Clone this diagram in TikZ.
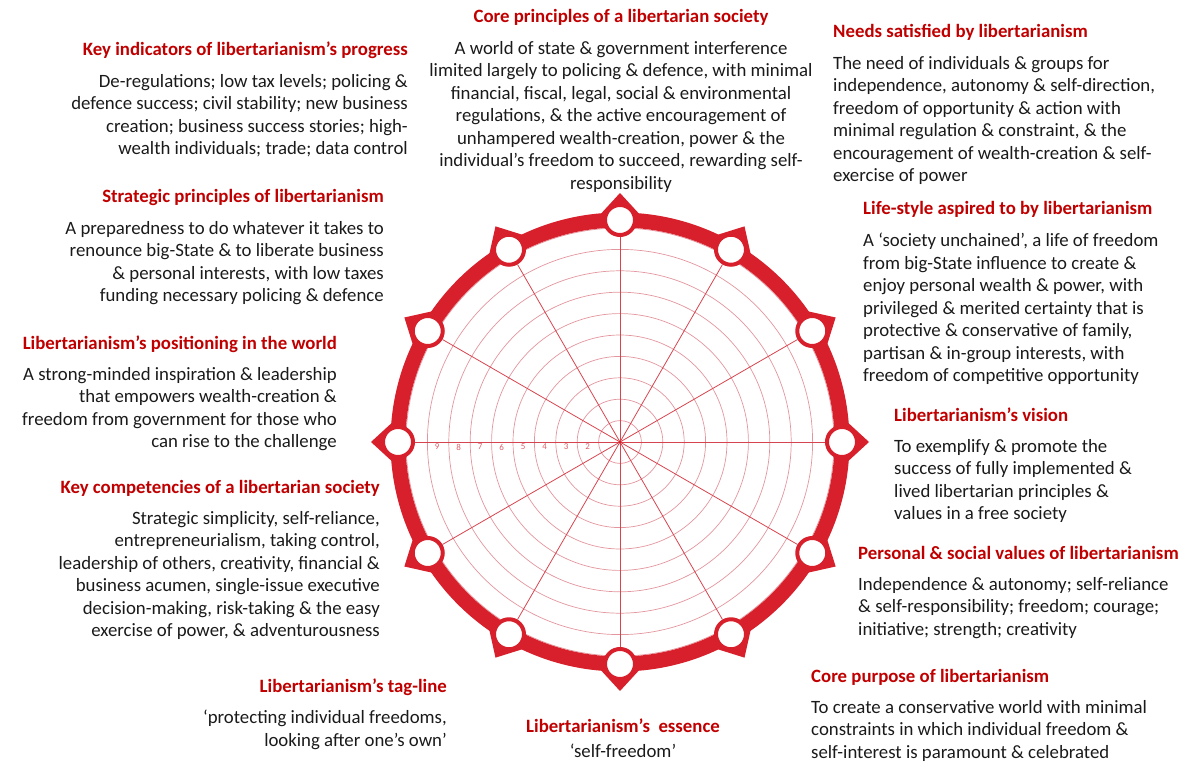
\documentclass[tikz,border=0pt]{standalone}
\usepackage{fontspec}
\setmainfont{Carlito}
\usetikzlibrary{positioning,calc}

\definecolor{wheelred}{HTML}{D7202B}
\definecolor{ringred}{HTML}{E3959D}
\definecolor{spokered}{HTML}{D6444F}
\definecolor{headred}{HTML}{C00000}
\definecolor{ink}{HTML}{1A1A1A}

\tikzset{
  head/.style={inner sep=0pt, text=headred, font=\fontsize{18.8}{22}\selectfont\bfseries,
    text height=13pt, text depth=4pt},
  blurb/.style={inner sep=0pt, text=ink, font=\fontsize{18.8}{22.5}\selectfont},
  spot/.style={circle, draw=wheelred, fill=white, line width=4pt,
    minimum size=30pt, inner sep=0pt},
  ring/.style={ringred, line width=0.7pt},
  spoke/.style={spokered, line width=0.8pt},
  tick/.style={inner sep=0pt, text=spokered!85, font=\fontsize{9}{9}\selectfont\rmfamily}
}

\begin{document}
\begin{tikzpicture}[%
x=1pt, y=-1pt,
node distance=14pt
]
\useasboundingbox (0,0) rectangle (1179,762);

% the wheel
\coordinate (hub) at (620,442);
\foreach \k in {1,...,10}
  \draw[ring] (hub) circle[radius=\k*21.4pt];
\draw[wheelred, line width=15pt] (hub) circle[radius=222pt];
\foreach \a in {0,30,...,330}
  \fill[wheelred] ($(hub)+(\a-6.5:223)$) -- ($(hub)+(\a:249)$) -- ($(hub)+(\a+6.5:223)$) -- cycle;
\foreach \a in {0,30,...,330}
  \node[spot] (spot\a) at ($(hub)+(\a:222)$) {};
\foreach \a in {0,30,...,330}
  \draw[spoke] (hub) -- (spot\a);
\fill[wheelred] (hub) circle[radius=1.6pt];
\foreach \k in {2,...,9}
  \node[tick] (tick\k) at ($(hub)+(-21.5*\k+10.75,5)$) {\k};

% top
\node[head, anchor=base] (coreH) at (621,23) {Core principles of a libertarian society};
\node[blurb, align=center, below=of coreH] (coreT) {A world of state \& government interference\\
limited largely to policing \& defence, with minimal\\
financial, fiscal, legal, social \& environmental\\
regulations, \& the active encouragement of\\
unhampered wealth-creation, power \& the\\
individual’s freedom to succeed, rewarding self-\\
responsibility};

% left side
\node[head, anchor=base east] (kipH) at (408,56) {Key indicators of libertarianism’s progress};
\node[blurb, align=right, below left=14pt and 0pt of kipH.south east] (kipT) {De-regulations; low tax levels; policing \&\\
defence success; civil stability; new business\\
creation; business success stories; high-\\
wealth individuals; trade; data control};

\node[head, anchor=base east] (stratH) at (384,203) {Strategic principles of libertarianism};
\node[blurb, align=right, below left=14pt and 0pt of stratH.south east] (stratT) {A preparedness to do whatever it takes to\\
renounce big-State \& to liberate business\\
\& personal interests, with low taxes\\
funding necessary policing \& defence};

\node[head, anchor=base east] (posH) at (337,349) {Libertarianism’s positioning in the world};
\node[blurb, align=right, below left=14pt and 0pt of posH.south east] (posT) {A strong-minded inspiration \& leadership\\
that empowers wealth-creation \&\\
freedom from government for those who\\
can rise to the challenge};

\node[head, anchor=base east] (compH) at (380,493) {Key competencies of a libertarian society};
\node[blurb, align=right, below left=14pt and 0pt of compH.south east] (compT) {Strategic simplicity, self-reliance,\\
entrepreneurialism, taking control,\\
leadership of others, creativity, financial \&\\
business acumen, single-issue executive\\
decision-making, risk-taking \& the easy\\
exercise of power, \& adventurousness};

\node[head, anchor=base east] (tagH) at (447,692) {Libertarianism’s tag-line};
\node[blurb, align=right, below left=14pt and 0pt of tagH.south east] (tagT) {‘protecting individual freedoms,\\
looking after one’s own’};

% bottom
\node[head, anchor=base] (essH) at (623,732) {Libertarianism’s\ \ essence};
\node[blurb, below=8pt of essH] (essT) {‘self-freedom’};

% right side
\node[head, anchor=base west] (needH) at (833,38) {Needs satisfied by libertarianism};
\node[blurb, align=left, below right=14pt and 0pt of needH.south west] (needT) {The need of individuals \& groups for\\
independence, autonomy \& self-direction,\\
freedom of opportunity \& action with\\
minimal regulation \& constraint, \& the\\
encouragement of wealth-creation \& self-\\
exercise of power};

\node[head, anchor=base west] (lifeH) at (863,215) {Life-style aspired to by libertarianism};
\node[blurb, align=left, below right=14pt and 0pt of lifeH.south west] (lifeT) {A ‘society unchained’, a life of freedom\\
from big-State influence to create \&\\
enjoy personal wealth \& power, with\\
privileged \& merited certainty that is\\
protective \& conservative of family,\\
partisan \& in-group interests, with\\
freedom of competitive opportunity};

\node[head, anchor=base west] (visH) at (894,421) {Libertarianism’s vision};
\node[blurb, align=left, below right=14pt and 0pt of visH.south west] (visT) {To exemplify \& promote the\\
success of fully implemented \&\\
lived libertarian principles \&\\
values in a free society};

\node[head, anchor=base west] (valH) at (858,559) {Personal \& social values of libertarianism};
\node[blurb, align=left, below right=14pt and 0pt of valH.south west] (valT) {Independence \& autonomy; self-reliance\\
\& self-responsibility; freedom; courage;\\
initiative; strength; creativity};

\node[head, anchor=base west] (purH) at (811,682) {Core purpose of libertarianism};
\node[blurb, align=left, below right=14pt and 0pt of purH.south west] (purT) {To create a conservative world with minimal\\
constraints in which individual freedom \&\\
self-interest is paramount \& celebrated};
\end{tikzpicture}
\end{document}
